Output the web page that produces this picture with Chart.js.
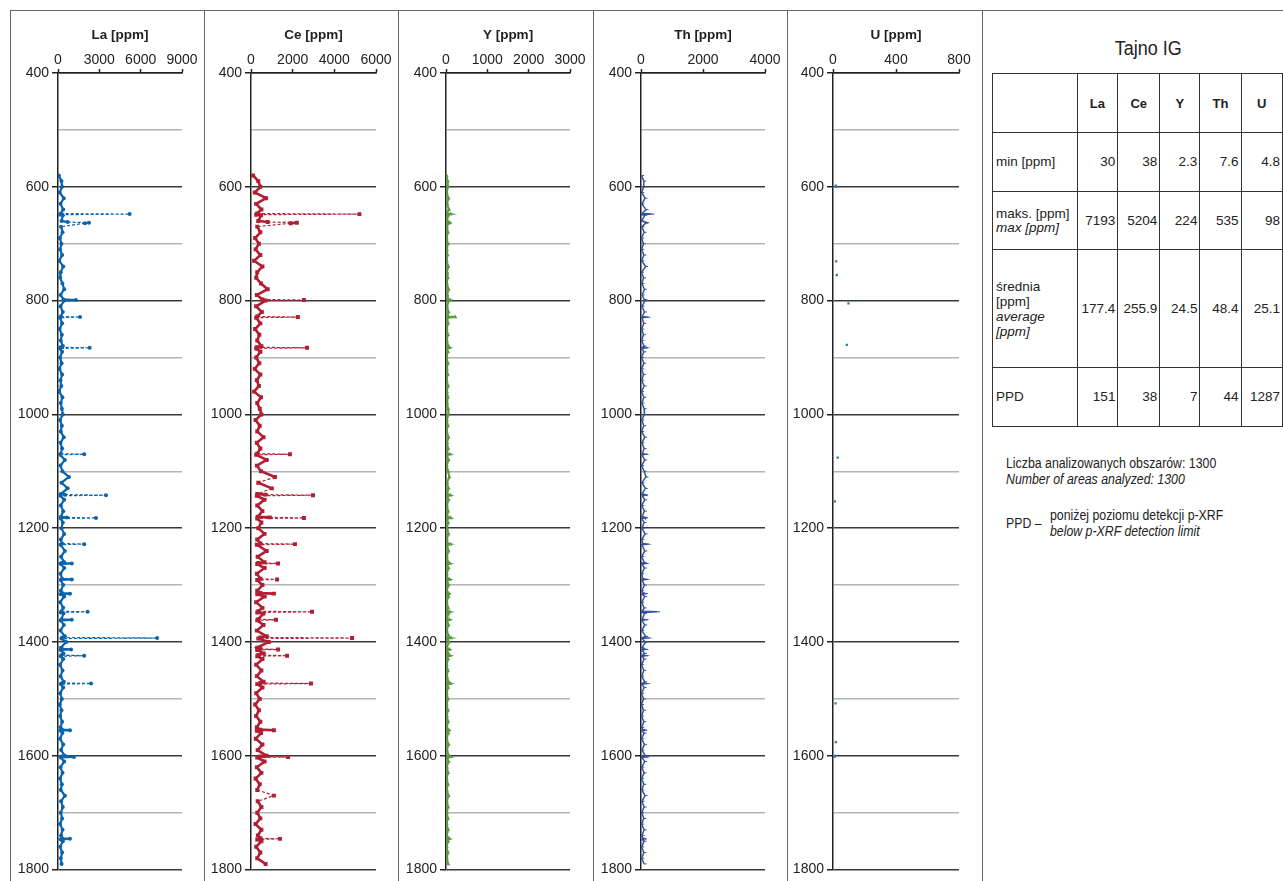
<!DOCTYPE html>
<html>
<head>
<meta charset="utf-8">
<script src="https://cdn.jsdelivr.net/npm/chart.js@4"></script>
<style>
  body { margin: 0; width: 1283px; height: 881px; overflow: hidden; background: #fff; position: relative;
         font-family: 'Liberation Sans', Arial, sans-serif; color: #222; }
  .panel { position: absolute; top: 10px; }
  .vline { position: absolute; top: 10px; height: 871px; width: 0; border-left: 1.5px solid #666; }
  .hline { position: absolute; top: 10px; left: 10px; width: 1273px; height: 0; border-top: 1.5px solid #666; }
  #title { position: absolute; left: 992px; width: 314px; top: 37px; text-align: center; font-size: 20px;
           transform: scaleX(0.9); transform-origin: 150px 0; }
  table { position: absolute; left: 992px; top: 73px; border-collapse: collapse; font-size: 13.5px; table-layout: fixed; }
  td { border: 1.5px solid #333; padding: 0 2px 0 3px; text-align: right; vertical-align: middle; line-height: 14px; white-space: nowrap; }
  td.lab { text-align: left; }
  th { border: 1.5px solid #333; font-weight: bold; text-align: center; font-size: 13px; }
  .note { position: absolute; left: 1006px; font-size: 14px; line-height: 16px; white-space: nowrap;
          transform: scaleX(0.88); transform-origin: 0 0; }
</style>
</head>
<body>
<div class="hline"></div>
<div class="vline" style="left:10px"></div>
<div class="vline" style="left:204px"></div>
<div class="vline" style="left:398px"></div>
<div class="vline" style="left:593px"></div>
<div class="vline" style="left:787px"></div>
<div class="vline" style="left:982px"></div>

<canvas class="panel" id="cLa" width="194" height="871" style="left:10px"></canvas>
<canvas class="panel" id="cCe" width="194" height="871" style="left:204px"></canvas>
<canvas class="panel" id="cY" width="194" height="871" style="left:398px"></canvas>
<canvas class="panel" id="cTh" width="194" height="871" style="left:593px"></canvas>
<canvas class="panel" id="cU" width="194" height="871" style="left:787px"></canvas>

<div id="title">Tajno IG</div>
<table>
  <colgroup><col style="width:85px"><col style="width:41px"><col style="width:42px"><col style="width:41px"><col style="width:42px"><col style="width:42px"></colgroup>
  <tr style="height:59px"><th></th><th>La</th><th>Ce</th><th>Y</th><th>Th</th><th>U</th></tr>
  <tr style="height:59px"><td class="lab">min [ppm]</td><td>30</td><td>38</td><td>2.3</td><td>7.6</td><td>4.8</td></tr>
  <tr style="height:58px"><td class="lab">maks. [ppm]<br><i>max [ppm]</i></td><td>7193</td><td>5204</td><td>224</td><td>535</td><td>98</td></tr>
  <tr style="height:118px"><td class="lab" style="line-height:15px">średnia<br>[ppm]<br><i>average<br>[ppm]</i></td><td>177.4</td><td>255.9</td><td>24.5</td><td>48.4</td><td>25.1</td></tr>
  <tr style="height:59px"><td class="lab">PPD</td><td>151</td><td>38</td><td>7</td><td>44</td><td>1287</td></tr>
</table>
<div class="note" style="top:455px">Liczba analizowanych obszarów: 1300<br><i>Number of areas analyzed: 1300</i></div>
<div class="note" style="top:515px">PPD –</div>
<div class="note" style="top:507px; left:1050px">poniżej poziomu detekcji p-XRF<br><i>below p-XRF detection limit</i></div>

<script>
// Depth [m], shared by La, Ce, Y, Th (one row per 100 m)
const depths = [
  580, 590,
  600, 610, 620, 630, 640, 647, 648, 649, 650, 660, 662, 663, 664, 670, 680, 690,
  700, 710, 720, 730, 740, 750, 760, 770, 780, 790, 798, 799,
  800, 810, 820, 828, 829, 830, 840, 850, 860, 870, 880, 882, 883, 884, 890,
  900, 910, 920, 930, 940, 950, 960, 970, 980, 990,
  1000, 1010, 1020, 1030, 1040, 1050, 1060, 1069, 1070, 1071, 1080, 1090,
  1100, 1110, 1120, 1130, 1140, 1141, 1142, 1143, 1150, 1160, 1170, 1180, 1181, 1182, 1183, 1190,
  1200, 1210, 1220, 1227, 1228, 1229, 1240, 1250, 1260, 1261, 1262, 1263, 1270, 1280, 1289, 1290, 1291,
  1300, 1310, 1314, 1315, 1316, 1320, 1330, 1340, 1346, 1347, 1348, 1350, 1360, 1361, 1362, 1370, 1380, 1390, 1392, 1393, 1394,
  1400, 1410, 1412, 1413, 1414, 1420, 1423, 1424, 1425, 1430, 1440, 1450, 1460, 1470, 1472, 1473, 1474, 1480, 1490,
  1500, 1510, 1520, 1530, 1540, 1550, 1554, 1555, 1556, 1560, 1570, 1580, 1590,
  1600, 1601, 1602, 1603, 1610, 1620, 1630, 1640, 1650, 1660, 1670, 1680, 1690,
  1700, 1710, 1720, 1730, 1740, 1745, 1746, 1747, 1750, 1760, 1770, 1780, 1790
];

const laValues = [
  60, 250,
  300, 120, 420, 180, 380, 200, 5200, 150, 350, 260, 700, 2250, 1950, 220, 330, 140,
  250, 150, 300, 90, 380, 200, 160, 320, 450, 180, 400, 1300,
  450, 180, 350, 200, 1600, 150, 300, 120, 280, 200, 350, 180, 2300, 150, 300,
  150, 260, 110, 300, 180, 240, 90, 320, 200, 280,
  350, 150, 280, 200, 420, 180, 300, 200, 1900, 150, 500, 180,
  320, 800, 250, 700, 200, 500, 3480, 180, 450, 200, 380, 220, 650, 2760, 200, 350,
  250, 450, 200, 300, 1900, 180, 500, 220, 450, 250, 1000, 200, 450, 180, 300, 1000, 200,
  380, 200, 300, 870, 200, 450, 160, 380, 250, 2150, 200, 400, 250, 1000, 200, 420, 180, 500, 300, 7193, 250,
  600, 200, 300, 950, 200, 400, 250, 1900, 200, 380, 150, 330, 180, 420, 300, 2400, 200, 380, 160,
  280, 130, 250, 160, 300, 180, 300, 870, 180, 320, 150, 380, 220,
  500, 300, 1160, 200, 450, 180, 330, 150, 280, 200, 500, 220, 350,
  200, 300, 150, 330, 220, 300, 870, 200, 350, 160, 300, 200, 260
];

const ceValues = [
  100, 350,
  450, 180, 720, 250, 500, 300, 5204, 250, 480, 350, 800, 2200, 1900, 300, 450, 200,
  380, 220, 450, 150, 550, 300, 250, 480, 800, 280, 550, 2540,
  700, 250, 520, 300, 2250, 250, 450, 200, 400, 300, 500, 280, 2690, 250, 450,
  250, 400, 180, 450, 280, 380, 150, 480, 300, 420,
  500, 220, 420, 300, 600, 280, 450, 300, 1870, 250, 750, 280,
  480, 1150, 350, 1000, 300, 700, 2976, 280, 650, 300, 550, 320, 900, 2540, 300, 500,
  350, 650, 300, 450, 2110, 280, 750, 320, 650, 350, 1300, 300, 650, 280, 450, 1250, 300,
  550, 300, 450, 1100, 300, 650, 250, 550, 350, 2930, 300, 600, 350, 1200, 300, 600, 280, 750, 450, 4850, 350,
  850, 300, 450, 1300, 300, 600, 350, 1730, 300, 550, 250, 500, 280, 600, 450, 2880, 300, 550, 250,
  420, 200, 380, 250, 450, 280, 450, 1100, 280, 480, 230, 550, 320,
  750, 450, 1780, 300, 650, 280, 500, 220, 420, 300, 1100, 320, 500,
  300, 450, 220, 500, 330, 450, 1390, 300, 500, 250, 450, 300, 700
];

const yValues = [
  10, 40,
  50, 15, 60, 25, 70, 20, 110, 15, 50, 30, 45, 90, 60, 20, 45, 15,
  45, 20, 35, 15, 55, 25, 40, 20, 60, 30, 45, 100,
  70, 25, 60, 40, 224, 30, 50, 15, 45, 20, 55, 25, 80, 20, 45,
  15, 45, 20, 40, 15, 50, 20, 45, 25, 50,
  60, 20, 45, 15, 60, 25, 50, 25, 90, 20, 60, 15,
  50, 80, 25, 60, 20, 50, 100, 25, 60, 20, 50, 25, 70, 110, 20, 50,
  25, 60, 20, 40, 100, 25, 60, 20, 50, 25, 90, 20, 60, 20, 40, 90, 25,
  60, 20, 40, 70, 20, 60, 15, 50, 25, 90, 20, 60, 25, 80, 20, 60, 15, 70, 40, 120, 25,
  70, 20, 40, 80, 20, 55, 30, 90, 20, 50, 15, 45, 20, 60, 30, 100, 25, 50, 15,
  45, 15, 45, 20, 50, 20, 40, 70, 20, 55, 15, 60, 20,
  70, 30, 100, 20, 60, 20, 50, 15, 45, 20, 60, 20, 50,
  20, 45, 15, 50, 20, 40, 80, 20, 50, 15, 45, 20, 50
];

const thValues = [
  20, 90,
  90, 20, 130, 30, 160, 40, 350, 30, 120, 25, 110, 180, 150, 30, 100, 20,
  80, 20, 90, 25, 150, 20, 80, 30, 110, 40, 100, 140,
  130, 30, 110, 40, 170, 30, 90, 25, 80, 20, 100, 40, 150, 30, 90,
  20, 90, 20, 80, 25, 100, 20, 90, 30, 100,
  110, 25, 90, 20, 120, 30, 100, 40, 140, 30, 120, 20,
  100, 160, 30, 140, 30, 120, 150, 40, 120, 25, 110, 30, 130, 140, 30, 100,
  30, 130, 25, 60, 180, 30, 120, 25, 100, 40, 150, 30, 110, 25, 60, 160, 30,
  110, 25, 60, 130, 30, 120, 25, 100, 40, 535, 30, 110, 40, 140, 30, 120, 25, 150, 60, 200, 30,
  150, 30, 60, 140, 30, 110, 50, 150, 30, 100, 20, 90, 25, 120, 60, 170, 30, 100, 20,
  80, 20, 80, 20, 90, 25, 60, 120, 30, 100, 20, 110, 30,
  140, 50, 160, 30, 120, 25, 100, 20, 90, 25, 130, 30, 100,
  25, 90, 20, 100, 30, 60, 110, 30, 100, 20, 90, 25, 100
];

// U: only the few areas above the detection limit
const uDepths = [598, 600, 731, 755, 805, 878, 1076, 1153, 1508, 1576, 1600, 1602];
const uValues = [18, 22, 20, 24, 98, 88, 30, 12, 16, 18, 8, 10];

const FONT = "'Liberation Sans', Arial, sans-serif";

function makePanel(id, title, xMax, xStep, yWidth, depthArr, valueArr, style) {
    const points = depthArr.map((d, i) => ({ x: valueArr[i], y: d }));
    new Chart(document.getElementById(id), {
        type: 'scatter',
        data: { datasets: [Object.assign({ data: points }, style)] },
        options: {
            responsive: false,
            animation: false,
            layout: { padding: { left: 0, right: 22, top: 0, bottom: 8 } },
            plugins: { legend: { display: false }, tooltip: { enabled: false } },
            scales: {
                x: {
                    type: 'linear', position: 'top', min: 0, max: xMax,
                    ticks: { stepSize: xStep, autoSkip: false, maxRotation: 0, padding: 0,
                             color: '#222', font: { family: FONT, size: 14 },
                             callback: v => String(v) },
                    grid: { drawOnChartArea: false, drawTicks: true, tickLength: 4, tickColor: '#222', tickWidth: 1.5 },
                    border: { color: '#222', width: 1.5 },
                    title: { display: true, text: title, color: '#222', padding: { top: 17, bottom: 0 },
                             font: { family: FONT, size: 13.5, weight: 'bold' } },
                    afterFit: s => { s.height = 63; }
                },
                y: {
                    type: 'linear', reverse: true, min: 400, max: 1800,
                    ticks: { stepSize: 100, autoSkip: false, padding: 3, color: '#222',
                             font: { family: FONT, size: 14 },
                             callback: v => (v % 200 === 0 ? String(v) : '') },
                    grid: {
                        lineWidth: 1.5, tickLength: 6,
                        color: ctx => (ctx.tick && ctx.tick.value % 200 === 0 ? '#3a3a3a' : '#b4b4b4'),
                        tickColor: ctx => (ctx.tick && ctx.tick.value % 200 === 0 ? '#222' : 'rgba(0,0,0,0)')
                    },
                    border: { color: '#222', width: 1.5 },
                    afterFit: s => { s.width = yWidth; }
                }
            }
        }
    });
}

// long horizontal excursions are drawn thin and dashed, the dense band stays solid
const isLong = ctx => Math.abs(ctx.p1.x - ctx.p0.x) > 14;
const longSegment = {
    borderDash: ctx => (isLong(ctx) ? [3, 2] : undefined),
    borderWidth: ctx => (isLong(ctx) ? 1.2 : undefined)
};

makePanel('cLa', 'La [ppm]', 9000, 3000, 48, depths, laValues, {
    showLine: true, borderColor: '#0a64ad', backgroundColor: '#0a64ad', borderWidth: 2.2,
    pointStyle: 'circle', pointRadius: 2, pointBorderWidth: 0, segment: longSegment
});
makePanel('cCe', 'Ce [ppm]', 6000, 2000, 47, depths, ceValues, {
    showLine: true, borderColor: '#b01f32', backgroundColor: '#b01f32', borderWidth: 2.6,
    pointStyle: 'rect', pointRadius: 2.8, pointBorderWidth: 0, segment: longSegment
});
makePanel('cY', 'Y [ppm]', 3000, 1000, 48, depths, yValues, {
    showLine: true, borderColor: '#5b9a3f', backgroundColor: '#5b9a3f', borderWidth: 2,
    pointStyle: 'triangle', pointRadius: 2.5, pointBorderWidth: 0
});
makePanel('cTh', 'Th [ppm]', 4000, 2000, 48, depths, thValues, {
    showLine: true, borderColor: '#3352a8', backgroundColor: '#3352a8', borderWidth: 1.5,
    pointStyle: 'dash', pointRadius: 2.5, pointBorderColor: '#3352a8', pointBorderWidth: 1
});
makePanel('cU', 'U [ppm]', 800, 400, 46, uDepths, uValues, {
    showLine: false, borderColor: '#2a7cc0', backgroundColor: '#2a7cc0',
    pointStyle: 'rect', pointRadius: 1.6, pointBorderWidth: 0
});
</script>
</body>
</html>
